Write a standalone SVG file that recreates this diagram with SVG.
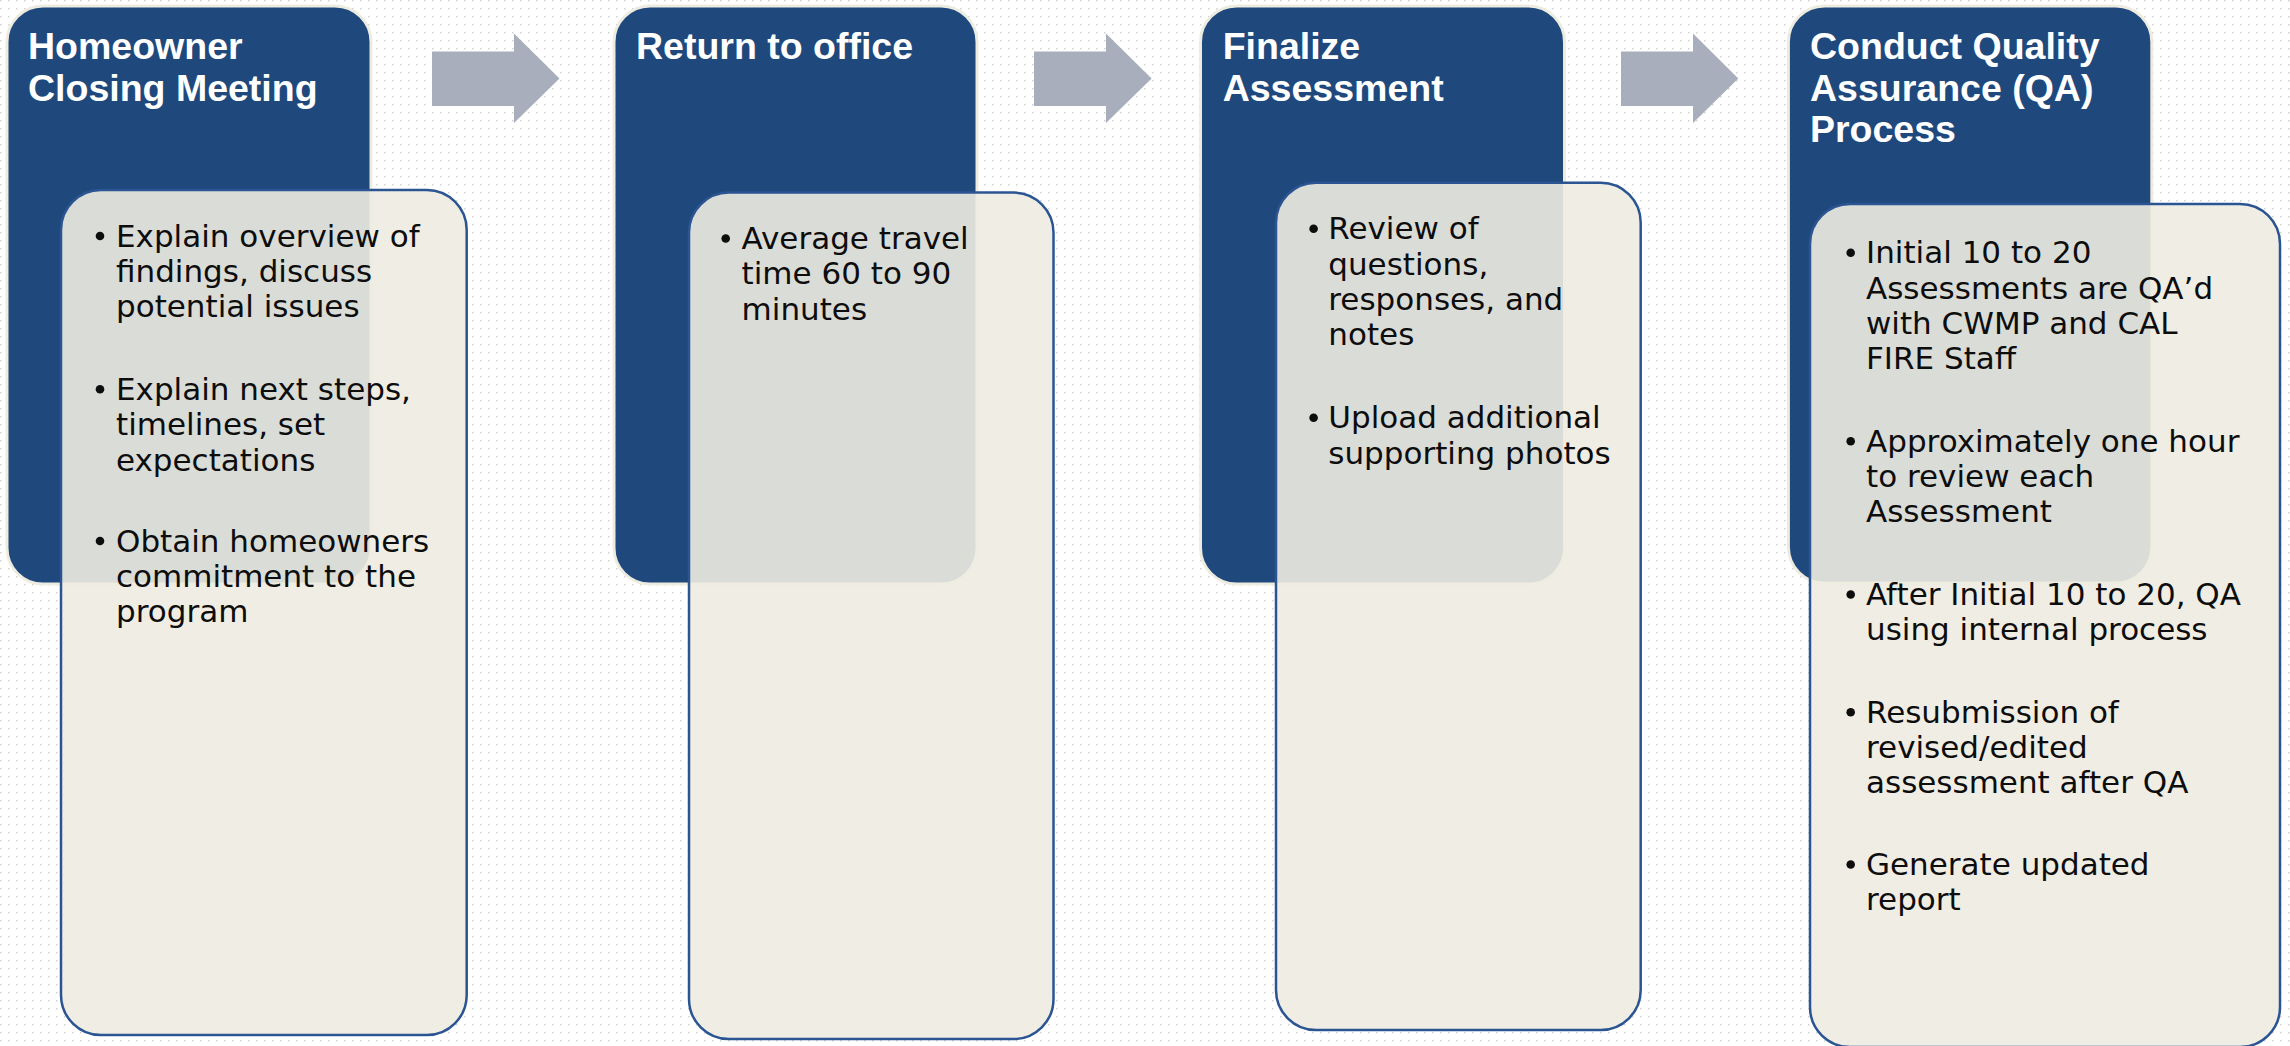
<svg xmlns="http://www.w3.org/2000/svg" width="2290" height="1046" viewBox="0 0 2290 1046">
<defs>
<pattern id="dots" width="8" height="8" patternUnits="userSpaceOnUse">
<rect x="0" y="0" width="1.5" height="1.5" fill="#d2d2d2"/>
</pattern>
<style>
.dark{fill:#1f497d;stroke:#eeece1;stroke-width:3}
.light{fill:#eeece1;fill-opacity:0.9;stroke:#2b5592;stroke-width:2.5}
.hdr{font-family:"Liberation Sans",Arial,sans-serif;font-weight:bold;font-size:37.5px;fill:#ffffff}
.body{font-family:"DejaVu Sans",sans-serif;font-size:31px;fill:#0d0d0d}
.bul{fill:#0d0d0d}
.arrow{fill:#a9aebc}
</style>
</defs>
<rect width="2290" height="1046" fill="#ffffff"/>
<rect width="2290" height="1046" fill="url(#dots)"/>

<g id="connectors">
<polygon class="arrow" points="432,51.4 514,51.4 514,33.6 559.5,78.5 514,123 514,106 432,106"/>
<polygon class="arrow" points="1034,51.4 1106,51.4 1106,33.6 1151.6,78.5 1106,123 1106,106 1034,106"/>
<polygon class="arrow" points="1621,51.4 1693,51.4 1693,33.6 1738.3,78.5 1693,123 1693,106 1621,106"/>
</g>

<g id="step1">
<rect class="dark" x="7" y="6" width="364" height="578" rx="36"/>
<text class="hdr"><tspan x="28" y="59.3">Homeowner</tspan><tspan x="28" y="100.5">Closing Meeting</tspan></text>
</g>
<g id="step1-details">
<rect class="light" x="61" y="190" width="405.7" height="845" rx="40"/>
<circle class="bul" cx="100" cy="236" r="4.3"/>
<circle class="bul" cx="100" cy="389.3" r="4.3"/>
<circle class="bul" cx="100" cy="541" r="4.3"/>
<text class="body">
<tspan x="116" y="246.7">Explain overview of</tspan>
<tspan x="116" y="282">findings, discuss</tspan>
<tspan x="116" y="317.3">potential issues</tspan>
<tspan x="116" y="400">Explain next steps,</tspan>
<tspan x="116" y="435.3">timelines, set</tspan>
<tspan x="116" y="470.6">expectations</tspan>
<tspan x="116" y="551.7">Obtain homeowners</tspan>
<tspan x="116" y="587">commitment to the</tspan>
<tspan x="116" y="622.3">program</tspan>
</text>
</g>

<g id="step2">
<rect class="dark" x="614" y="6" width="363" height="578" rx="36"/>
<text class="hdr"><tspan x="636" y="59.3">Return to office</tspan></text>
</g>
<g id="step2-details">
<rect class="light" x="689" y="192.6" width="364.5" height="846.4" rx="40"/>
<circle class="bul" cx="725.7" cy="238.5" r="4.3"/>
<text class="body">
<tspan x="741.6" y="249">Average travel</tspan>
<tspan x="741.6" y="284.3">time 60 to 90</tspan>
<tspan x="741.6" y="319.6">minutes</tspan>
</text>
</g>

<g id="step3">
<rect class="dark" x="1200.5" y="6" width="364" height="578" rx="36"/>
<text class="hdr"><tspan x="1222.7" y="59.3">Finalize</tspan><tspan x="1222.7" y="100.5">Assessment</tspan></text>
</g>
<g id="step3-details">
<rect class="light" x="1276" y="182.7" width="364.7" height="847.3" rx="40"/>
<circle class="bul" cx="1313.6" cy="228.7" r="4.3"/>
<circle class="bul" cx="1313.6" cy="417.7" r="4.3"/>
<text class="body">
<tspan x="1328.3" y="239.2">Review of</tspan>
<tspan x="1328.3" y="274.5">questions,</tspan>
<tspan x="1328.3" y="309.8">responses, and</tspan>
<tspan x="1328.3" y="345.1">notes</tspan>
<tspan x="1328.3" y="428.2">Upload additional</tspan>
<tspan x="1328.3" y="463.5">supporting photos</tspan>
</text>
</g>

<g id="step4">
<rect class="dark" x="1788.4" y="6" width="363.4" height="577" rx="36"/>
<text class="hdr"><tspan x="1810" y="59.3">Conduct Quality</tspan><tspan x="1810" y="100.5">Assurance (QA)</tspan><tspan x="1810" y="141.7">Process</tspan></text>
</g>
<g id="step4-details">
<rect class="light" x="1810" y="204" width="470" height="843" rx="40"/>
<circle class="bul" cx="1850.7" cy="252.8" r="4.3"/>
<circle class="bul" cx="1850.7" cy="441.2" r="4.3"/>
<circle class="bul" cx="1850.7" cy="594.5" r="4.3"/>
<circle class="bul" cx="1850.7" cy="712.2" r="4.3"/>
<circle class="bul" cx="1850.7" cy="864.5" r="4.3"/>
<text class="body">
<tspan x="1866" y="263.3">Initial 10 to 20</tspan>
<tspan x="1866" y="298.6">Assessments are QA’d</tspan>
<tspan x="1866" y="333.9">with CWMP and CAL</tspan>
<tspan x="1866" y="369.2">FIRE Staff</tspan>
<tspan x="1866" y="451.7">Approximately one hour</tspan>
<tspan x="1866" y="487">to review each</tspan>
<tspan x="1866" y="522.3">Assessment</tspan>
<tspan x="1866" y="605">After Initial 10 to 20, QA</tspan>
<tspan x="1866" y="640.3">using internal process</tspan>
<tspan x="1866" y="722.7">Resubmission of</tspan>
<tspan x="1866" y="758">revised/edited</tspan>
<tspan x="1866" y="793.3">assessment after QA</tspan>
<tspan x="1866" y="875">Generate updated</tspan>
<tspan x="1866" y="910.3">report</tspan>
</text>
</g>
</svg>
